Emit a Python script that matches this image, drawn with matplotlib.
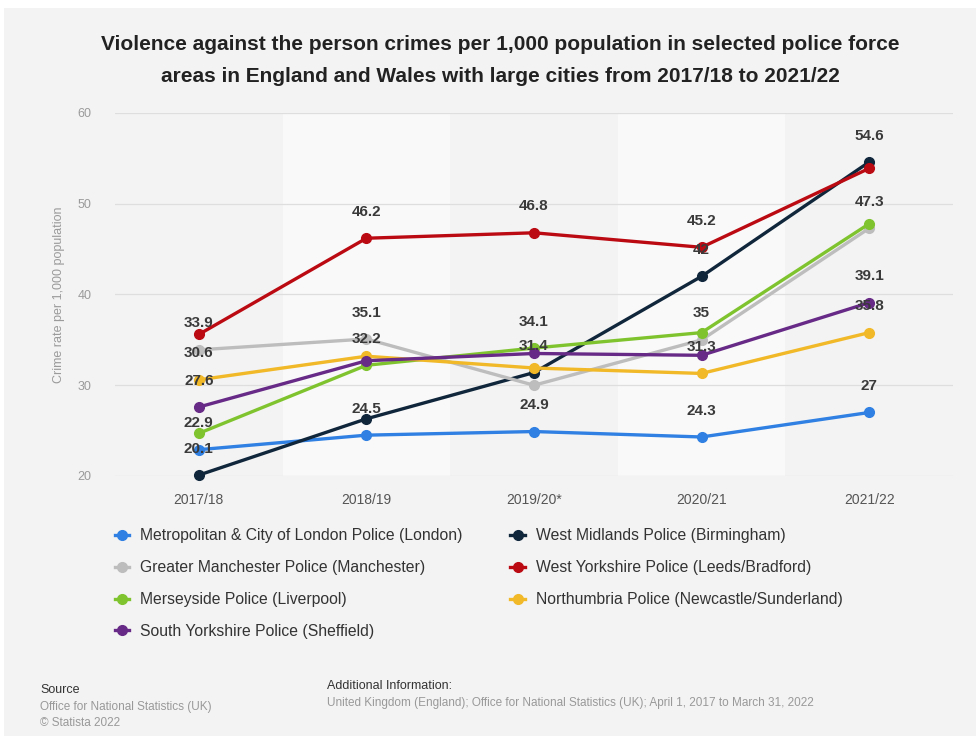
import matplotlib
matplotlib.use('Agg')
import matplotlib.pyplot as plt
from matplotlib.patches import Rectangle
from matplotlib.lines import Line2D

plt.rcParams['font.family'] = ['Liberation Sans', 'DejaVu Sans']

# data
years = ['2017/18', '2018/19', '2019/20*', '2020/21', '2021/22']
series_names = [
  'Metropolitan & City of London Police (London)',
  'West Midlands Police (Birmingham)',
  'Greater Manchester Police (Manchester)',
  'West Yorkshire Police (Leeds/Bradford)',
  'Merseyside Police (Liverpool)',
  'Northumbria Police (Newcastle/Sunderland)',
  'South Yorkshire Police (Sheffield)',
]
london = [22.9, 24.5, 24.9, 24.3, 27.0]
birmingham = [20.1, 26.3, 31.4, 42.0, 54.6]
manchester = [33.9, 35.1, 30.0, 35.0, 47.3]
leeds = [35.6, 46.2, 46.8, 45.2, 53.9]
liverpool = [24.7, 32.2, 34.1, 35.8, 47.8]
newcastle = [30.6, 33.2, 31.9, 31.3, 35.8]
sheffield = [27.6, 32.7, 33.5, 33.3, 39.1]

# which data labels are visible in the original (others hidden by overlap)
london_lbl = [1, 1, 1, 1, 1]
birmingham_lbl = [1, 0, 1, 1, 1]
manchester_lbl = [1, 1, 0, 1, 1]
leeds_lbl = [0, 1, 1, 1, 0]
liverpool_lbl = [0, 1, 1, 0, 0]
newcastle_lbl = [1, 0, 0, 1, 1]
sheffield_lbl = [1, 0, 0, 0, 1]

colors = ['#2f80e2', '#10263b', '#bdbdbd', '#bb0a12', '#7fc42f', '#f1b828', '#672a86']

all_values = [london, birmingham, manchester, leeds, liverpool, newcastle, sheffield]
all_lbl = [london_lbl, birmingham_lbl, manchester_lbl, leeds_lbl, liverpool_lbl, newcastle_lbl, sheffield_lbl]

bg = '#f3f3f3'
fig = plt.figure(figsize=(9.76, 7.36), dpi=100)
fig.patch.set_facecolor('white')
fig.patches.append(Rectangle((4/976, 0), 1, 728/736, transform=fig.transFigure,
                             facecolor=bg, edgecolor='none', zorder=-10))

ax = fig.add_axes([115/976, 260/736, (953-115)/976, (476-113)/736])
ax.set_facecolor(bg)
x = list(range(len(years)))
for i in x:
  if i % 2 == 1:
    ax.axvspan(i-0.5, i+0.5, color='#f9f9f9', zorder=0, lw=0)

for vals, lbl, col in zip(all_values, all_lbl, colors):
  ax.plot(x, vals, color=col, lw=2.4, marker='o', ms=7, zorder=3, clip_on=False)
  for xi, v, show in zip(x, vals, lbl):
    if show:
      txt = ('%g' % v)
      ax.annotate(txt, (xi, v), xytext=(0, 19), textcoords='offset points',
                  ha='center', va='center', fontsize=11, fontweight='bold',
                  color='#3a3a3a', zorder=5)

ax.set_xlim(-0.5, len(years)-0.5)
ax.set_ylim(20, 60)
ax.set_yticks([20, 30, 40, 50, 60])
ax.set_xticks(x)
ax.set_xticklabels(years)
ax.grid(axis='y', color='#dedede', lw=0.9, zorder=1)
ax.set_axisbelow(True)
for s in ax.spines.values():
  s.set_visible(False)
ax.tick_params(axis='both', length=0)
ax.tick_params(axis='y', labelsize=9, labelcolor='#9a9a9a', pad=17)
ax.tick_params(axis='x', labelsize=10, labelcolor='#555555', pad=12)
ax.set_ylabel('Crime rate per 1,000 population', fontsize=9, color='#9a9a9a', labelpad=9)

fig.text(500/976, 1-45/736, 'Violence against the person crimes per 1,000 population in selected police force',
         ha='center', va='center', fontsize=15, fontweight='bold', color='#222222')
fig.text(500/976, 1-76/736, 'areas in England and Wales with large cities from 2017/18 to 2021/22',
         ha='center', va='center', fontsize=15, fontweight='bold', color='#222222')

# legend
handles = [Line2D([0], [0], color=c, lw=2.4, marker='o', ms=7) for c in colors]
order = [0, 2, 4, 6, 1, 3, 5]
leg = fig.legend([handles[i] for i in order], [series_names[i] for i in order],
                 loc='upper left', bbox_to_anchor=(101/976, 1-514/736), ncol=2,
                 frameon=False, fontsize=11.3, handlelength=0.9, handletextpad=0.7,
                 labelspacing=1.08, columnspacing=3.05)
for t in leg.get_texts():
  t.set_color('#333333')

# footer
fig.text(40/976, 1-690/736, 'Source', fontsize=9, color='#333333', va='center')
fig.text(40/976, 1-707/736, 'Office for National Statistics (UK)', fontsize=8.5, color='#999999', va='center')
fig.text(40/976, 1-723/736, '\u00a9 Statista 2022', fontsize=8.5, color='#999999', va='center')
fig.text(327/976, 1-686/736, 'Additional Information:', fontsize=9, color='#333333', va='center')
fig.text(327/976, 1-703/736,
         'United Kingdom (England); Office for National Statistics (UK); April 1, 2017 to March 31, 2022',
         fontsize=8.5, color='#999999', va='center')

fig.savefig('out.png', dpi=100, facecolor=fig.get_facecolor())
